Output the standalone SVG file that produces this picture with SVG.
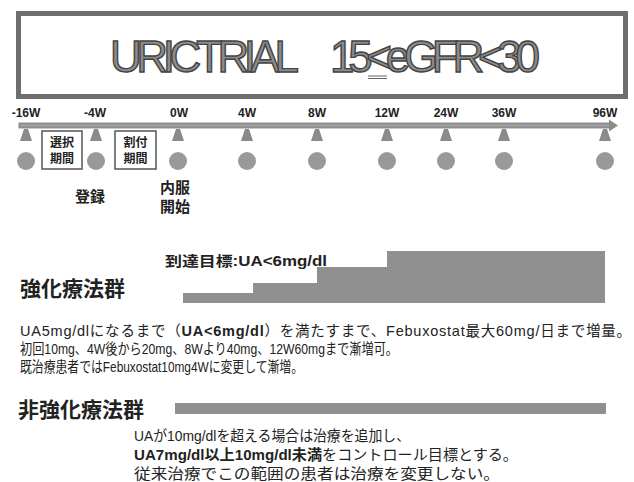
<svg xmlns="http://www.w3.org/2000/svg" width="634" height="482" viewBox="0 0 634 482">
<style>
  .jp { font-family: "Liberation Sans", "Noto Sans CJK JP", sans-serif; fill: #222; }
  .tl { font-family: "Liberation Sans", Arial, sans-serif; font-size: 12px; font-weight: bold; fill: #222; text-anchor: middle; }
  .title { font-family: "Liberation Sans", Arial, sans-serif; font-size: 44px; fill: #8c8c8c; stroke: #444; stroke-width: 1.4; }
  .bar { fill: #8f8f8f; }
  .pbox { fill: #fff; stroke: #555; stroke-width: 1.5; }
  .pt { font-family: "Liberation Sans", "Noto Sans CJK JP", sans-serif; font-size: 12px; font-weight: bold; fill: #222; text-anchor: middle; }
</style>
<defs>
  <g id="mk">
    <polygon points="-2,129 2,129 6,141 -6,141" fill="#8a8a8a"/>
    <circle cx="0" cy="161" r="9" fill="#999"/>
  </g>
</defs>

<g id="title">
  <rect x="18.5" y="13.5" width="607" height="83" fill="#fff" stroke="#6e6e6e" stroke-width="5"/>
  <text class="title" x="110" y="72" textLength="189" lengthAdjust="spacing">URICTRIAL</text>
  <text class="title" x="330" y="72" textLength="210" lengthAdjust="spacing">15&lt;eGFR&lt;30</text>
  <line x1="368" y1="76" x2="387" y2="76" stroke="#666" stroke-width="1"/>
  <line x1="368" y1="78.5" x2="387" y2="78.5" stroke="#666" stroke-width="1"/>
</g>

<g id="connectors">
  <rect x="19" y="123" width="591" height="5" fill="#9c9c9c" stroke="#777" stroke-width="0.8"/>
  <polygon points="609,119.5 618,125.5 609,131.5" fill="#8a8a8a"/>
</g>

<g id="timeline-labels">
  <text class="tl" x="26" y="117">-16W</text>
  <text class="tl" x="95" y="117">-4W</text>
  <text class="tl" x="179" y="117">0W</text>
  <text class="tl" x="247" y="117">4W</text>
  <text class="tl" x="317" y="117">8W</text>
  <text class="tl" x="387" y="117">12W</text>
  <text class="tl" x="446" y="117">24W</text>
  <text class="tl" x="504" y="117">36W</text>
  <text class="tl" x="605" y="117">96W</text>
</g>

<g id="markers">
  <use href="#mk" x="26"/>
  <use href="#mk" x="96"/>
  <use href="#mk" x="178"/>
  <use href="#mk" x="247"/>
  <use href="#mk" x="317"/>
  <use href="#mk" x="387"/>
  <use href="#mk" x="446"/>
  <use href="#mk" x="504"/>
  <use href="#mk" x="605"/>
</g>

<g id="selection-period">
  <rect class="pbox" x="42" y="131" width="40" height="38"/>
  <text class="pt" x="62" y="147">選択</text>
  <text class="pt" x="62" y="163">期間</text>
</g>
<g id="allocation-period">
  <rect class="pbox" x="115" y="131" width="41" height="38"/>
  <text class="pt" x="135.5" y="147">割付</text>
  <text class="pt" x="135.5" y="163">期間</text>
</g>

<g id="registration">
  <text class="jp" x="75" y="202" font-size="15" font-weight="bold">登録</text>
</g>
<g id="start">
  <text class="jp" x="160" y="193" font-size="15" font-weight="bold">内服</text>
  <text class="jp" x="160" y="212" font-size="15" font-weight="bold">開始</text>
</g>

<g id="intensive">
  <text class="jp" x="20" y="296" font-size="21" font-weight="bold" fill="#333">強化療法群</text>
  <text class="jp" x="165" y="266" font-size="14" font-weight="bold" textLength="162" lengthAdjust="spacingAndGlyphs">到達目標:UA&lt;6mg/dl</text>
  <polygon class="bar" points="183,293 253,293 253,283 317,283 317,267 387,267 387,251 605,251 605,303 183,303"/>
  <text class="jp" x="20" y="336" font-size="14.5" textLength="611" lengthAdjust="spacing">UA5mg/dlになるまで（<tspan font-weight="bold">UA&lt;6mg/dl</tspan>）を満たすまで、Febuxostat最大60mg/日まで増量。</text>
  <text class="jp" x="20" y="354" font-size="14.5" textLength="378" lengthAdjust="spacingAndGlyphs">初回10mg、4W後から20mg、8Wより40mg、12W60mgまで漸増可。</text>
  <text class="jp" x="20" y="372" font-size="14.5" textLength="283" lengthAdjust="spacingAndGlyphs">既治療患者ではFebuxostat10mg4Wに変更して漸増。</text>
</g>

<g id="non-intensive">
  <text class="jp" x="18" y="417" font-size="21" font-weight="bold" fill="#333">非強化療法群</text>
  <rect class="bar" x="175" y="403" width="431" height="11"/>
  <text class="jp" x="134" y="441" font-size="14.5" textLength="276" lengthAdjust="spacingAndGlyphs">UAが10mg/dlを超える場合は治療を追加し、</text>
  <text class="jp" x="134" y="460" font-size="14.5" textLength="384" lengthAdjust="spacingAndGlyphs"><tspan font-weight="bold">UA7mg/dl以上10mg/dl未満</tspan>をコントロール目標とする。</text>
  <text class="jp" x="134" y="479" font-size="14.5" textLength="366" lengthAdjust="spacingAndGlyphs">従来治療でこの範囲の患者は治療を変更しない。</text>
</g>
</svg>
